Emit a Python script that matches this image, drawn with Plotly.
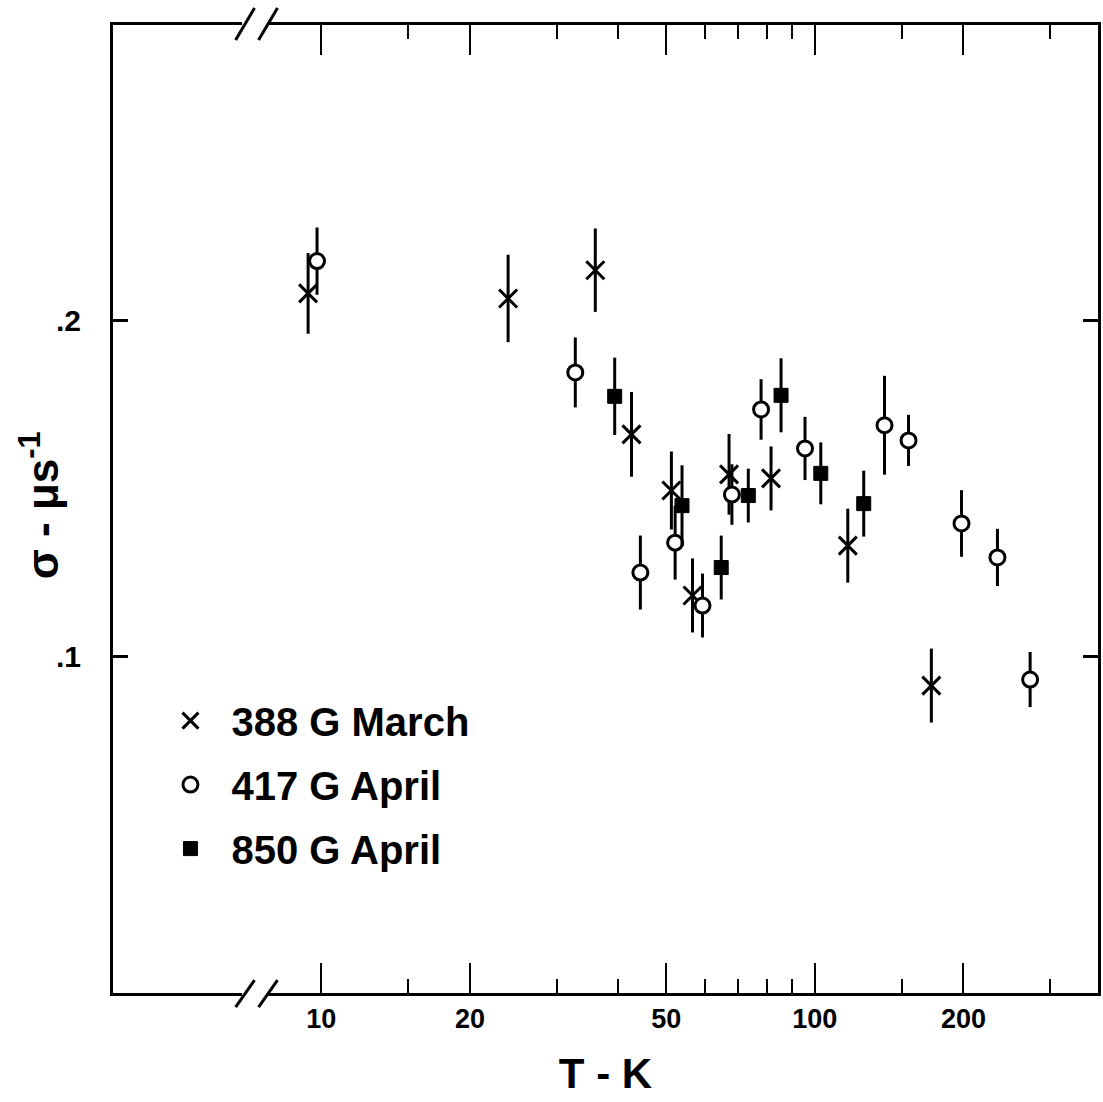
import plotly.graph_objects as go

# ---- data (T in K, sigma in 1/us) ----
T_march = [9.4, 23.9, 35.9, 42.5, 51.2, 56.5, 67.0, 81.5, 116.6, 172.2]
sig_march = [0.208, 0.2065, 0.2149, 0.1661, 0.1494, 0.1182, 0.1542, 0.153, 0.133, 0.0914]
err_march = [0.012, 0.013, 0.0124, 0.0126, 0.0116, 0.011, 0.012, 0.0095, 0.011, 0.011]

T_417 = [9.8, 32.7, 44.3, 52.1, 59.2, 67.9, 77.8, 95.5, 138.4, 154.8, 198.2, 234.4, 273.0]
sig_417 = [0.2176, 0.1845, 0.125, 0.1339, 0.1152, 0.1482, 0.1735, 0.1619, 0.1688, 0.1643, 0.1396, 0.1295, 0.0932]
err_417 = [0.010, 0.0104, 0.011, 0.011, 0.0095, 0.009, 0.009, 0.0094, 0.0147, 0.0076, 0.0099, 0.0085, 0.0082]

T_850 = [39.3, 53.8, 64.6, 73.3, 85.4, 102.8, 125.6]
sig_850 = [0.1774, 0.1449, 0.1265, 0.1479, 0.1777, 0.1545, 0.1455]
err_850 = [0.0115, 0.012, 0.0095, 0.008, 0.011, 0.0092, 0.0098]

names = ["388 G March", "417 G April", "850 G April"]

x_major = [10, 20, 50, 100, 200]
x_major_labels = ["10", "20", "50", "100", "200"]
x_minor = [15, 30, 40, 60, 70, 80, 90, 150, 300]
y_ticks = [0.1, 0.2]
y_tick_labels = [".1", ".2"]

FONT = "Liberation Sans"

fig = go.Figure()

def err(e):
    return dict(type="data", array=e, visible=True, color="black", thickness=3, width=0)

fig.add_trace(go.Scatter(
    x=T_march, y=sig_march, mode="markers", name=names[0], legendgroup="a",
    error_y=err(err_march),
    marker=dict(symbol="x-thin-open", size=18, color="black", line=dict(color="black", width=3)),
))
fig.add_trace(go.Scatter(
    x=T_417, y=sig_417, mode="markers", name=names[1], legendgroup="b",
    error_y=err(err_417),
    marker=dict(symbol="circle", size=15, color="white", line=dict(color="black", width=3)),
))
fig.add_trace(go.Scatter(
    x=T_850, y=sig_850, mode="markers", name=names[2], legendgroup="c",
    error_y=err(err_850),
    marker=dict(symbol="square", size=14, color="black", line=dict(color="black", width=1)),
))

# axis break marks "//" on top and bottom axes (decoration)
shapes = []
for (y0, y1) in [(0.9845, 1.0176), (-0.0145, 0.0134)]:
    yc = 1.0 if y0 > 0.5 else 0.0
    shapes.append(dict(type="rect", xref="paper", yref="paper", x0=0.131, x1=0.157,
                       y0=yc - 0.004, y1=yc + 0.004, fillcolor="white", line=dict(width=0), layer="above"))
    shapes.append(dict(type="line", xref="paper", yref="paper", x0=0.1245, y0=y0, x1=0.1437, y1=y1,
                       line=dict(color="black", width=3), layer="above"))
    shapes.append(dict(type="line", xref="paper", yref="paper", x0=0.1478, y0=y0, x1=0.1670, y1=y1,
                       line=dict(color="black", width=3), layer="above"))

fig.update_layout(
    width=1103, height=1102,
    margin=dict(l=113, r=2, t=25, b=109),
    paper_bgcolor="white", plot_bgcolor="white",
    font=dict(family=FONT, color="black"),
    showlegend=True,
    legend=dict(x=0.037, y=0.315, xanchor="left", yanchor="top",
                font=dict(family=FONT, size=40, color="black", weight="bold"),
                bgcolor="rgba(0,0,0,0)", tracegroupgap=9, itemsizing="trace", itemwidth=72),
    xaxis=dict(
        type="log", range=[0.5778, 2.5737],
        showline=True, linecolor="black", linewidth=3, mirror="ticks",
        showgrid=False, zeroline=False,
        ticks="inside", ticklen=30, tickwidth=2, tickcolor="black",
        tickmode="array", tickvals=x_major, ticktext=x_major_labels,
        tickfont=dict(family=FONT, size=27, color="black", weight="bold"),
        ticklabelstandoff=0,
        minor=dict(ticks="inside", ticklen=14, tickwidth=2, tickcolor="black",
                   tickmode="array", tickvals=x_minor, showgrid=False),
        title=dict(text="T - K", font=dict(family=FONT, size=42, color="black", weight="bold"), standoff=26),
    ),
    yaxis=dict(
        range=[0, 0.2878],
        showline=True, linecolor="black", linewidth=3, mirror="ticks",
        showgrid=False, zeroline=False,
        ticks="inside", ticklen=15, tickwidth=3, tickcolor="black",
        tickmode="array", tickvals=y_ticks, ticktext=y_tick_labels,
        tickfont=dict(family=FONT, size=30, color="black", weight="bold"),
        ticklabelstandoff=23,
    ),
    annotations=[dict(text="σ - μs<sup>-1</sup>", xref="paper", yref="paper",
                      x=-0.075, y=0.504, xanchor="center", yanchor="middle",
                      textangle=-90, showarrow=False,
                      font=dict(family=FONT, size=44, color="black", weight="bold"))],
    shapes=shapes,
)

fig.write_html("out.html", config={"responsive": False, "displayModeBar": False},
               post_script="document.body.style.margin='0';document.body.style.padding='0';")
